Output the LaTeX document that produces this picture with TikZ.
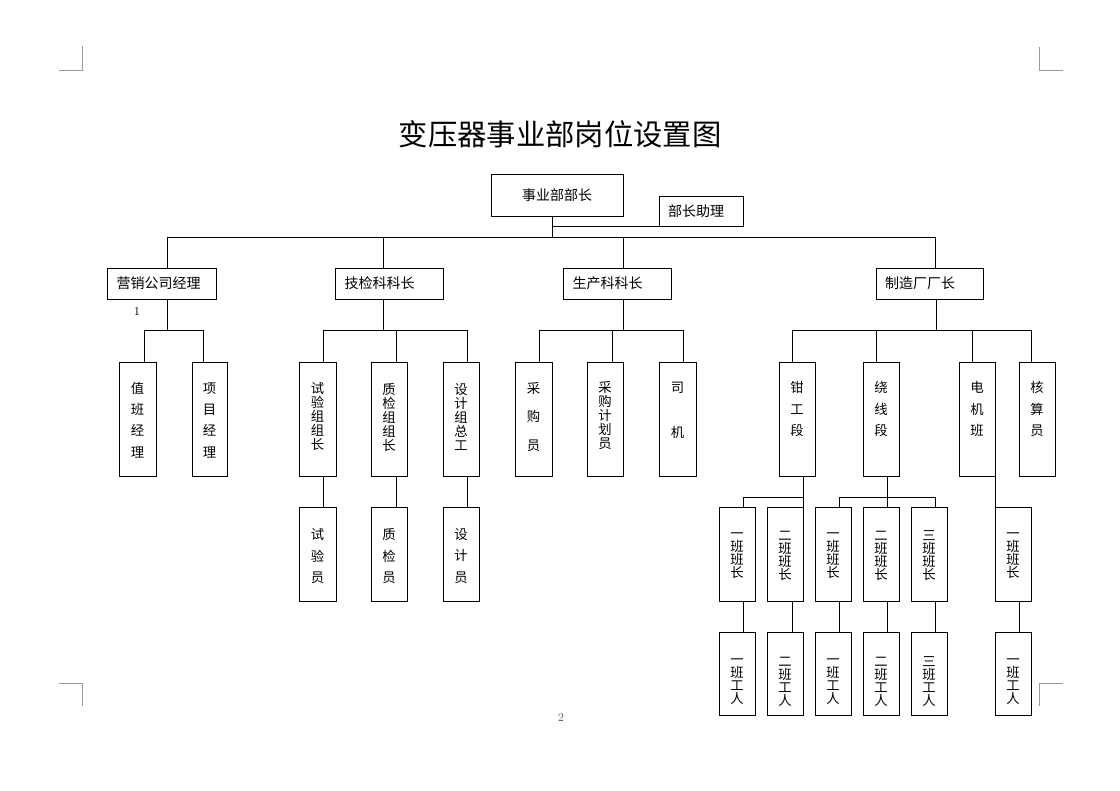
\documentclass[tikz,border=0pt]{standalone}
\usepackage{fontspec}
\newfontfamily\cjk{Noto Sans CJK SC}
\newcommand\obx[8]{%
  \node[bx, minimum width={(#4-#2)*0.75pt}, minimum height={(#5-#3)*0.75pt}] (#1) at ({(#2+#4)/2},{(#3+#5)/2}) {};
  \node[vt=#7pt] (#1t) at ({(#2+#4)/2},#6) {#8};}
\newcommand\hbx[7]{%
  \node[bx, minimum width={(#4-#2)*0.75pt}, minimum height={(#5-#3)*0.75pt}] (#1) at ({(#2+#4)/2},{(#3+#5)/2}) {};
  \node[ht] (#1t) at (#6,{(#3+#5)/2}) {#7};}
\begin{document}
\begin{tikzpicture}[x=0.75pt,y=-0.75pt,line width=0.6pt,
  bx/.style={draw,rectangle,inner sep=0pt,outer sep=0pt},
  ht/.style={font=\cjk\fontsize{10.5}{12}\selectfont,inner sep=0pt},
  vt/.style={font=\cjk\fontsize{10}{#1}\selectfont,align=center,inner sep=0pt},
  cornermark/.style={draw=black!40,line width=0.6pt}]
\useasboundingbox[fill=white] (0,0) rectangle (1120,790);

% corner marks
\draw[cornermark] (59,70) -- (82,70) -- (82,46);
\draw[cornermark] (1039,47) -- (1039,70) -- (1063,70);
\draw[cornermark] (59,683) -- (82,683) -- (82,706);
\draw[cornermark] (1063,683) -- (1039,683) -- (1039,706);

% title
\node[font=\cjk\fontsize{22}{26}\selectfont,inner sep=0pt] (title) at (560,134) {变压器事业部岗位设置图};

% level 1 and 2
\hbx{top}{491}{174}{623}{216}{557}{事业部部长}
\hbx{asst}{659}{196}{743}{226}{696}{部长助理}
\hbx{yx}{107}{268}{216}{299}{158.5}{营销公司经理}
\hbx{jj}{335}{268}{443}{299}{379.5}{技检科科长}
\hbx{sc}{563}{268}{671}{299}{607.5}{生产科科长}
\hbx{zz}{876}{268}{983}{299}{920}{制造厂厂长}
\node[font=\fontsize{9}{10}\selectfont,inner sep=0pt] (one) at (137,311) {1};
\node[font=\fontsize{9}{10}\selectfont,inner sep=0pt,text=black!60] (pagenum) at (561,717) {2};

% level 3
\obx{zb}{119}{362}{156}{476}{420}{16}{值\\班\\经\\理}
\obx{xm}{192}{362}{227}{476}{420}{16}{项\\目\\经\\理}
\obx{sy}{299}{362}{336}{476}{416}{10.5}{试\\验\\组\\组\\长}
\obx{zj}{371}{362}{407}{476}{417}{10.5}{质\\检\\组\\组\\长}
\obx{sj}{443}{362}{479}{476}{417}{10.5}{设\\计\\组\\总\\工}
\obx{cg}{515}{362}{552}{476}{417}{21.4}{采\\购\\员}
\obx{jh}{587}{362}{623}{476}{416}{10.5}{采\\购\\计\\划\\员}
\obx{sji}{659}{362}{696}{476}{410}{33.75}{司\\机}
\obx{qg}{779}{362}{815}{476}{409}{16}{钳\\工\\段}
\obx{rx}{863}{362}{899}{476}{409}{16}{绕\\线\\段}
\obx{dj}{959}{362}{995}{476}{409}{16}{电\\机\\班}
\obx{hs}{1019}{362}{1055}{476}{409}{16}{核\\算\\员}

% level 4
\obx{syy}{299}{507}{336}{601}{556}{16.3}{试\\验\\员}
\obx{zjy}{371}{507}{407}{601}{556}{16.3}{质\\检\\员}
\obx{sjy}{443}{507}{479}{601}{556}{16.3}{设\\计\\员}
\obx{a1}{719}{507}{755}{601}{556}{9.75}{一\\班\\班\\长}
\obx{a2}{767}{507}{803}{601}{556}{9.75}{二\\班\\班\\长}
\obx{b1}{815}{507}{851}{601}{556}{9.75}{一\\班\\班\\长}
\obx{b2}{863}{507}{899}{601}{556}{9.75}{二\\班\\班\\长}
\obx{b3}{911}{507}{947}{601}{556}{9.75}{三\\班\\班\\长}
\obx{c1}{995}{507}{1031}{601}{556}{9.75}{一\\班\\班\\长}

% level 5
\obx{a1w}{719}{632}{755}{715}{682}{9.75}{一\\班\\工\\人}
\obx{a2w}{767}{632}{803}{715}{682}{9.75}{二\\班\\工\\人}
\obx{b1w}{815}{632}{851}{715}{682}{9.75}{一\\班\\工\\人}
\obx{b2w}{863}{632}{899}{715}{682}{9.75}{二\\班\\工\\人}
\obx{b3w}{911}{632}{947}{715}{682}{9.75}{三\\班\\工\\人}
\obx{c1w}{995}{632}{1031}{715}{682}{9.75}{一\\班\\工\\人}

% connectors: top
\coordinate (tp) at (552,237);
\draw (tp |- top.south) -- (tp);
\draw (tp |- asst.south) -- (asst.south west);
\coordinate (mbL) at (167,237);
\coordinate (mbR) at (935,237);
\draw (mbL) -- (mbR);
\foreach \x/\n in {167/yx,383/jj,623/sc,935/zz}{
  \coordinate (u\n) at (\x,237);
  \draw (u\n) -- (u\n |- \n.north);}

% level 2 to level 3
\foreach \x/\n in {167/yx,383/jj,623/sc,936/zz}{
  \coordinate (l\n) at (\x,330);
  \draw (l\n |- \n.south) -- (l\n);}
\foreach \x/\n in {144/zb,203/xm,323/sy,396/zj,467/sj,539/cg,612/jh,683/sji,792/qg,876/rx,972/dj,1031/hs}{
  \coordinate (d\n) at (\x,330);
  \draw (d\n) -- (d\n |- \n.north);}
\draw (dzb) -- (dxm);
\draw (dsy) -- (dsj);
\draw (dcg) -- (dsji);
\draw (dqg) -- (dhs);

% level 3 to level 4
\foreach \x/\a/\b in {323/sy/syy,396/zj/zjy,467/sj/sjy}{
  \coordinate (e\b) at (\x,490);
  \draw (e\b |- \a.south) -- (e\b |- \b.north);}
\coordinate (qa) at (743,497);
\coordinate (qb) at (803,497);
\draw (qb |- qg.south) -- (qb);
\draw (qa) -- (qb);
\draw (qa) -- (qa |- a1.north);
\draw (qb) -- (qb |- a2.north);
\foreach \x/\n in {839/b1,887/b2,935/b3}{
  \coordinate (f\n) at (\x,497);
  \draw (f\n) -- (f\n |- \n.north);}
\draw (fb1) -- (fb3);
\draw (fb2 |- rx.south) -- (fb2);
\draw (dj.south east) -- (c1.north west);

% level 4 to level 5
\foreach \x/\a/\b in {743/a1/a1w,792/a2/a2w,839/b1/b1w,887/b2/b2w,935/b3/b3w,1019/c1/c1w}{
  \coordinate (g\b) at (\x,620);
  \draw (g\b |- \a.south) -- (g\b |- \b.north);}
\end{tikzpicture}
\end{document}
